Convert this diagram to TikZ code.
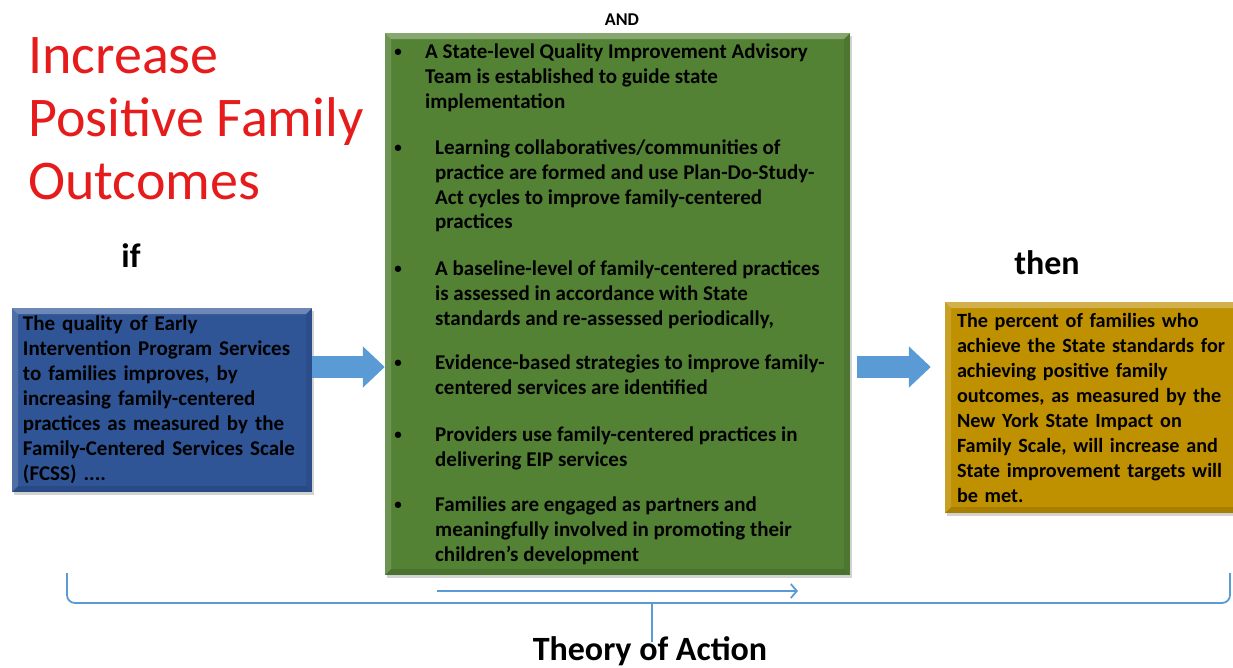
\documentclass[tikz,border=0pt]{standalone}
\usepackage{fontspec}
\setmainfont{Carlito}
\usetikzlibrary{arrows.meta,shadows}

\definecolor{causeblue}{RGB}{47,85,151}
\definecolor{actgreen}{RGB}{84,130,53}
\definecolor{outgold}{RGB}{191,144,0}
\definecolor{flowblue}{RGB}{91,155,213}
\definecolor{titlered}{RGB}{230,28,28}

\tikzset{
  bevel/.style={path picture={
    % light top and left edges, dark bottom and right edges
    \fill[white, opacity=0.3] (path picture bounding box.north west)
      -- (path picture bounding box.north east)
      -- ([xshift=-6pt,yshift=-6pt]path picture bounding box.north east)
      -- ([xshift=6pt,yshift=-6pt]path picture bounding box.north west) -- cycle;
    \fill[white, opacity=0.15] (path picture bounding box.north west)
      -- ([xshift=6pt,yshift=-6pt]path picture bounding box.north west)
      -- ([xshift=6pt,yshift=6pt]path picture bounding box.south west)
      -- (path picture bounding box.south west) -- cycle;
    \fill[black, opacity=0.12] (path picture bounding box.south west)
      -- (path picture bounding box.south east)
      -- ([xshift=-6pt,yshift=6pt]path picture bounding box.south east)
      -- ([xshift=6pt,yshift=6pt]path picture bounding box.south west) -- cycle;
    \fill[black, opacity=0.08] (path picture bounding box.north east)
      -- ([xshift=-6pt,yshift=-6pt]path picture bounding box.north east)
      -- ([xshift=-6pt,yshift=6pt]path picture bounding box.south east)
      -- (path picture bounding box.south east) -- cycle;
  }},
  box/.style={rectangle, inner xsep=10pt, inner ysep=0pt, align=left, text=black,
    font=\bfseries\fontsize{21}{25}\selectfont, bevel,
    drop shadow={shadow xshift=2pt, shadow yshift=-3pt, opacity=0.35}},
  item/.style={inner sep=0pt, anchor=north west, align=left,
    font=\bfseries\fontsize{21}{24.7}\selectfont, execute at begin node=\strut},
  dot/.style={inner sep=0pt, anchor=base, font=\bfseries\fontsize{15}{16}\selectfont},
  heading/.style={inner sep=0pt, anchor=base, font=\bfseries\fontsize{34}{40}\selectfont},
  bigarrow/.style={draw=flowblue, line width=22pt, -{Triangle[length=22pt,width=40pt]}},
  flow/.style={draw=flowblue, line width=1.8pt, -{Straight Barb[length=6pt,width=14pt]}},
  brace/.style={draw=flowblue, line width=1.8pt, rounded corners=8pt}
}

\begin{document}
\begin{tikzpicture}[x=1pt, y=-1pt]
\useasboundingbox (0,0) rectangle (1233,667);

% Goal
\node[inner sep=0pt, anchor=north west, align=left, text=titlered,
  font=\fontsize{56}{63}\selectfont, execute at begin node=\strut] (goal) at (28,37)
  {Increase\\Positive Family\\Outcomes};

% Headings
\node[heading] (ifhead) at (131,267) {if};
\node[heading] (thenhead) at (1047,274) {then};
\node[heading, font=\bfseries\fontsize{18}{20}\selectfont] (andhead) at (622,25) {AND};

% Boxes
\node[box, fill=causeblue, text width=278pt,
  minimum width=300pt, minimum height=184pt] (cause) at (162,400)
  {The quality of Early\\
   Intervention Program Services\\
   to families improves, by\\
   increasing family-centered\\
   practices as measured by the\\
   Family-Centered Services Scale\\
   (FCSS) ....};

\node[box, fill=actgreen,
  minimum width=465pt, minimum height=542pt] (actions) at (617.5,304) {};

\node[box, fill=outgold, inner xsep=12pt, text width=290pt,
  font=\bfseries\fontsize{20.2}{25}\selectfont,
  minimum height=211pt] (outcome) at (1102,407.5)
  {The percent of families who\\
   achieve the State standards for\\
   achieving positive family\\
   outcomes, as measured by the\\
   New York State Impact on\\
   Family Scale, will increase and\\
   State improvement targets will\\
   be met.};

% Actions list
\node[dot] (dot1) at (398,56) {•};
\node[item] (act1) at (425,43.7)
  {A State-level Quality Improvement Advisory\\Team is established to guide state\\implementation};
\node[dot] (dot2) at (398,152) {•};
\node[item] (act2) at (435,139.7)
  {Learning collaboratives/communities of\\practice are formed and use Plan-Do-Study-\\Act cycles to improve family-centered\\practices};
\node[dot] (dot3) at (398,273) {•};
\node[item] (act3) at (435,260.7)
  {A baseline-level of family-centered practices\\is assessed in accordance with State\\standards and re-assessed periodically,};
\node[dot] (dot4) at (398,367) {•};
\node[item] (act4) at (435,354.7)
  {Evidence-based strategies to improve family-\\centered services are identified};
\node[dot] (dot5) at (398,439) {•};
\node[item] (act5) at (435,426.7)
  {Providers use family-centered practices in\\delivering EIP services};
\node[dot] (dot6) at (398,509) {•};
\node[item] (act6) at (435,496.7)
  {Families are engaged as partners and\\meaningfully involved in promoting their\\children’s development};

% Arrows between boxes
\draw[bigarrow] ([yshift=33pt]cause.east) -- ([yshift=33pt]cause.east -| actions.west);
\draw[bigarrow, shorten <=7pt, shorten >=14pt] ([yshift=33pt]cause.east -| actions.east)
  -- ([yshift=33pt]cause.east -| outcome.west);

% Flow under the actions
\coordinate (flowA) at (437,591);
\coordinate (flowB) at (798,591);
\draw[flow] (flowA) -- (flowB);

% Brace
\coordinate (braceL) at (67,573);
\coordinate (braceR) at (1230,573);
\coordinate (braceM) at (652,603);
\coordinate (braceTip) at (652,642);
\draw[brace] (braceL) |- (braceM) -| (braceR);
\draw[brace] (braceM) -- (braceTip);

\node[heading] (theory) at (650,660) {Theory of Action};
\end{tikzpicture}
\end{document}
